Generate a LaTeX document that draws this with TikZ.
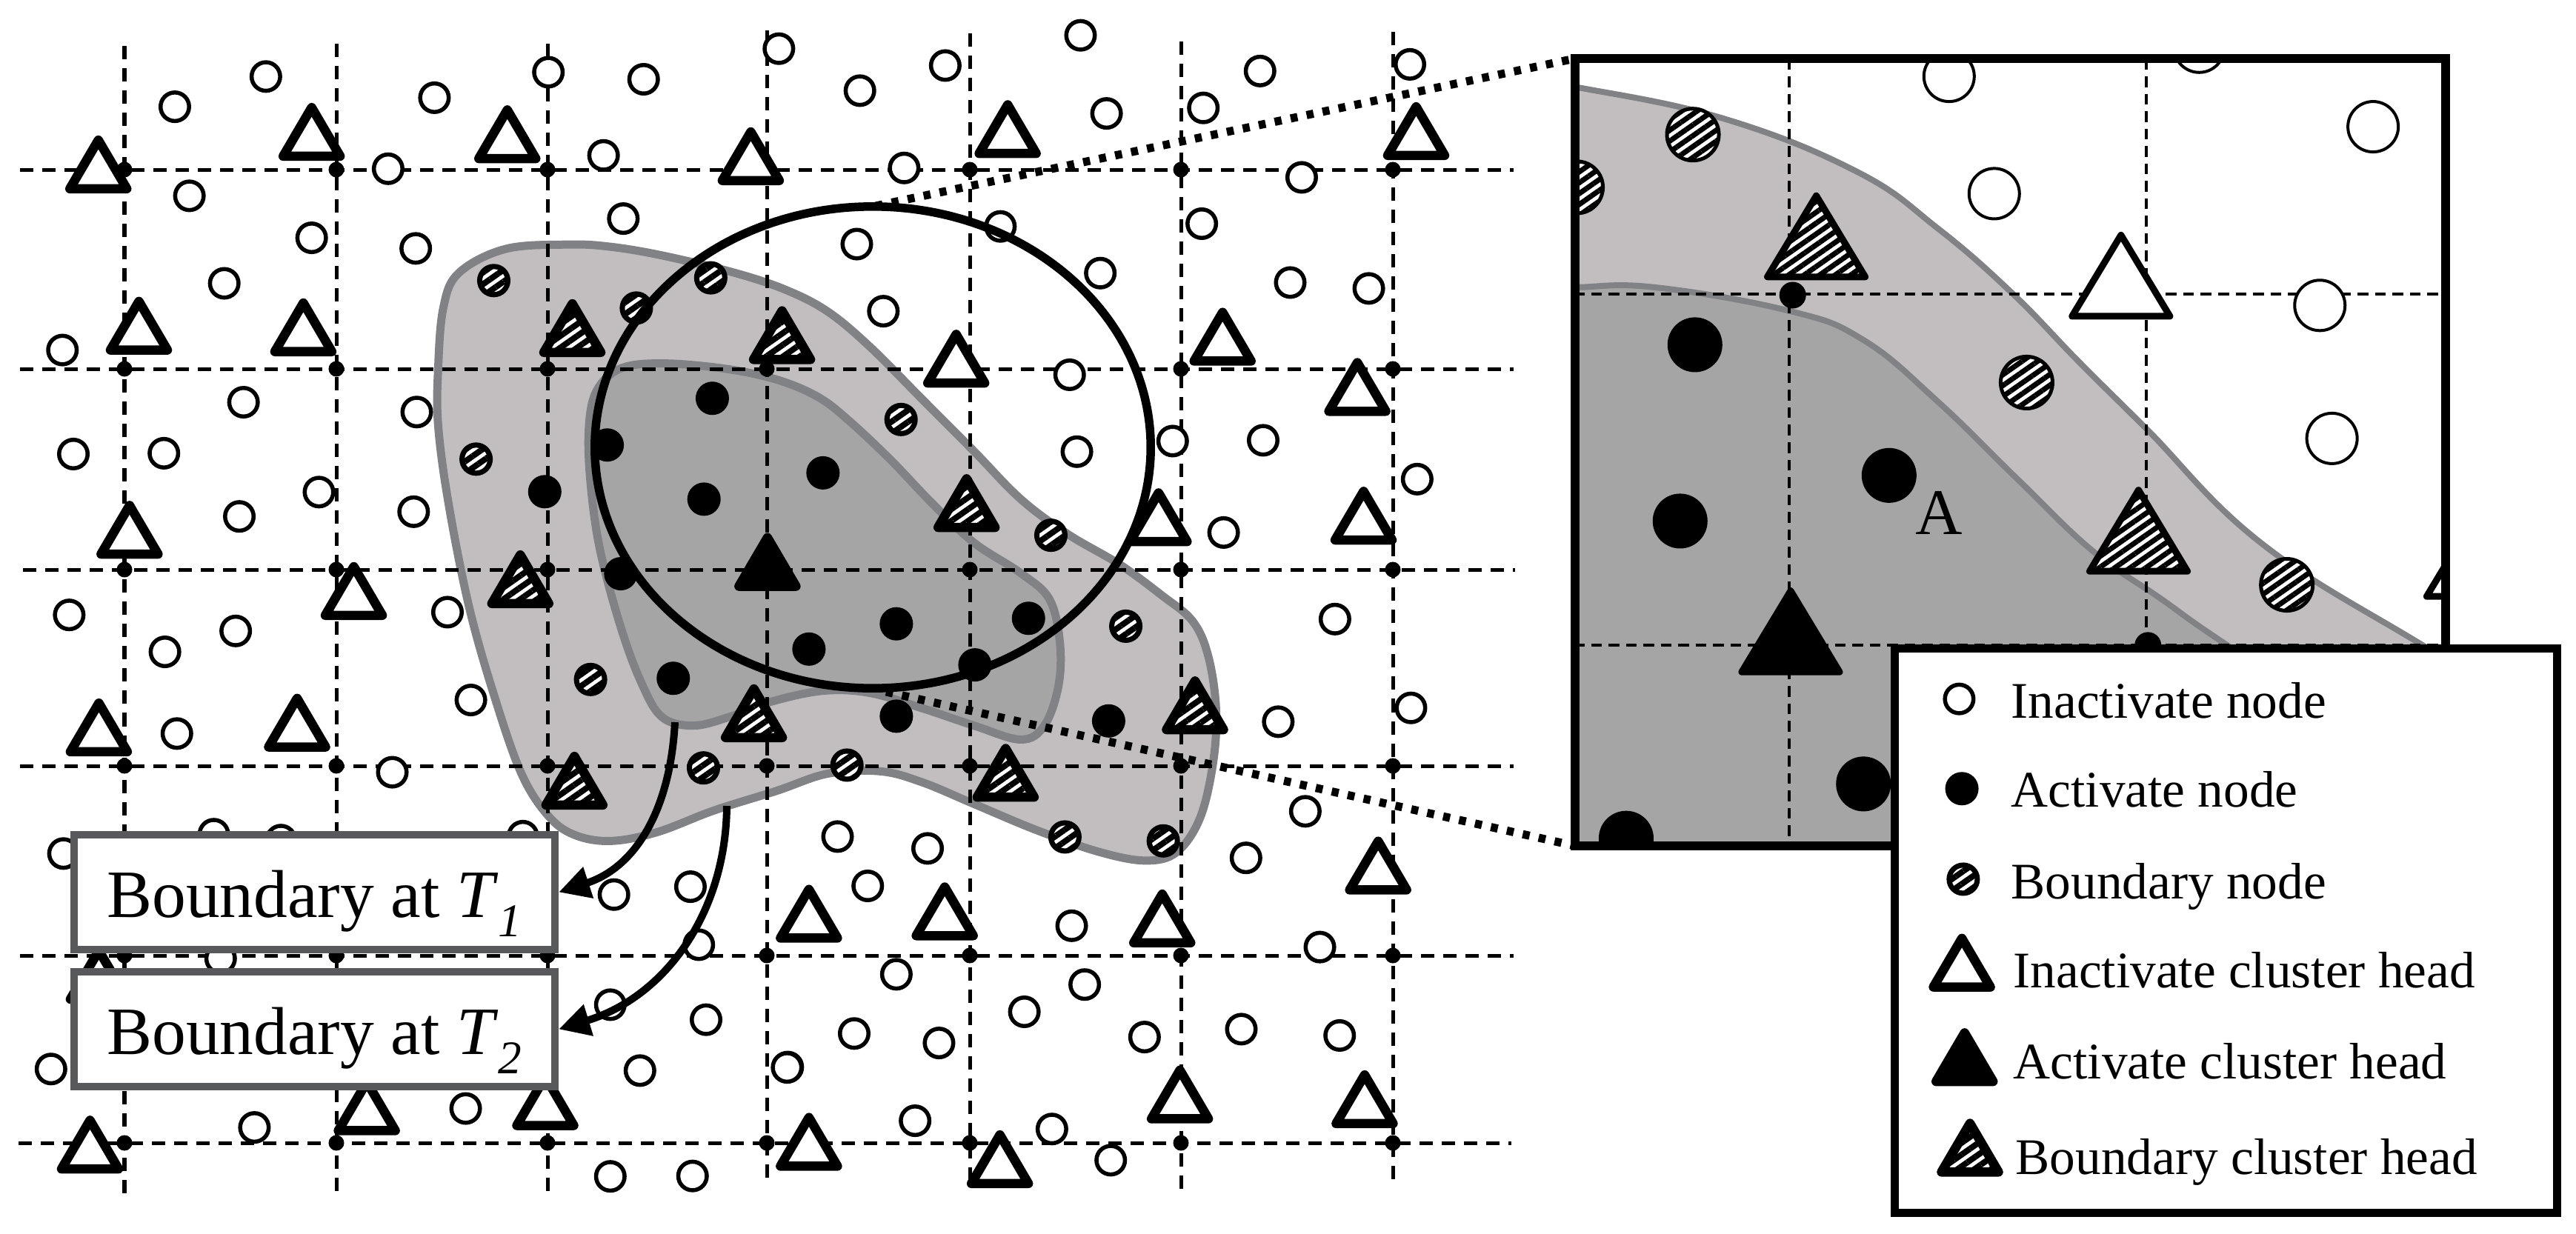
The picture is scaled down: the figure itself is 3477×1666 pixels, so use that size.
\documentclass[tikz,border=0pt]{standalone}
\usepackage{fontspec}
\setmainfont{Liberation Serif}
\usetikzlibrary{arrows.meta,patterns.meta}
\definecolor{zoneline}{HTML}{808285}
\definecolor{zoneout}{HTML}{C2BEBF}
\definecolor{zonein}{HTML}{A6A5A6}
\definecolor{boxline}{HTML}{58595B}
\newcommand\placenodes[3]{\foreach \x/\y [count=\i] in {#3} \node[#1] (#2\i) at (\x,\y) {};}
\newcommand\placetris[2]{\foreach \x/\y in {#2} \path[#1] (\x,\y) +(-.385cm,.063cm) -- +(.385cm,.063cm) -- +(0cm,.72cm) -- cycle;}
\newcommand\placebig[2]{\foreach \x/\y in {#2} \path[#1] (\x,\y) +(-.66cm,.045cm) -- +(.66cm,.045cm) -- +(0cm,1.14cm) -- cycle;}
\tikzset{
  hatch/.style={preaction={fill=white},pattern={Lines[angle=35,distance=.13cm,line width=.08cm]},pattern color=black},
  hatchbig/.style={preaction={fill=white},pattern={Lines[angle=35,distance=.12cm,line width=.07cm]},pattern color=black},
  inode/.style={circle,draw=black,fill=white,line width=.055cm,minimum size=.385cm,inner sep=0pt},
  anode/.style={circle,fill=black,minimum size=.45cm,inner sep=0pt},
  bnode/.style={circle,draw=black,line width=.07cm,minimum size=.38cm,inner sep=0pt,hatch},
  ihead/.style={draw=black,fill=white,line width=.125cm,line join=round},
  ahead/.style={draw=black,fill=black,line width=.125cm,line join=round},
  bhead/.style={draw=black,line width=.125cm,line join=round,hatch},
  gridline/.style={draw=black,line width=.05cm,dash pattern=on .18cm off .12cm},
  griddot/.style={circle,fill=black,minimum size=.21cm,inner sep=0pt},
  fineline/.style={draw=black,line width=.04cm,dash pattern=on .145cm off .09cm},
  zoneA/.style={draw=zoneline,fill=zoneout,line width=.11cm},
  zoneB/.style={draw=zoneline,fill=zonein,line width=.11cm},
  zoneAz/.style={draw=zoneline,fill=zoneout,line width=.08cm},
  zoneBz/.style={draw=zoneline,fill=zonein,line width=.08cm},
  dotlink/.style={draw=black,line width=.11cm,dash pattern=on .095cm off .125cm},
  labelbox/.style={draw=boxline,fill=white,line width=.1cm,minimum width=6.49cm,minimum height=1.55cm,inner sep=0pt,text height=.9cm,text depth=.22cm,font=\fontsize{26}{26}\selectfont},
  bigi/.style={circle,draw=black,fill=white,line width=.04cm,minimum size=.68cm,inner sep=0pt},
  biga/.style={circle,fill=black,minimum size=.74cm,inner sep=0pt},
  bigb/.style={circle,draw=black,line width=.05cm,minimum size=.7cm,inner sep=0pt,hatchbig},
  smalla/.style={circle,fill=black,minimum size=.36cm,inner sep=0pt},
  bigih/.style={draw=black,fill=white,line width=.09cm,line join=round},
  bigah/.style={draw=black,fill=black,line width=.09cm,line join=round},
  bigbh/.style={draw=black,line width=.09cm,line join=round,hatchbig},
  legtext/.style={anchor=base west,inner sep=0pt,font=\fontsize{19.7}{20}\selectfont},
  zA/.style={x=.0070153cm,y=-.0052932cm},
  zB/.style={xshift=10cm,x=.0070153cm,y=-.0052932cm},
  zD/.style={yshift=-8.3cm,x=.0070153cm,y=-.0053316cm},
  zE/.style={xshift=10cm,yshift=-8.3cm,x=.0070153cm,y=-.0053316cm},
  zC/.style={xshift=20.5cm,x=.0091008cm,y=-.0106247cm},
  zF/.style={xshift=5.7cm,yshift=-2.8cm,x=.0070153cm,y=-.0058675cm},
  curved/.style={draw=black,line width=.1cm,-{Triangle[length=.42cm,width=.42cm]}}
}
\begin{document}
\begin{tikzpicture}[x=.01cm,y=-.01cm]
\useasboundingbox (0,0) rectangle (3477,1666);
% boundary zones
\begin{scope}[zF]
\path[zoneA] plot[smooth cycle,tension=.6] coordinates {(280,85)(160,95)(70,150)(40,230)(30,370)(30,500)(50,680)(90,920)(140,1130)(190,1300)(240,1395)(290,1440)(360,1455)(450,1435)(560,1385)(680,1340)(780,1300)(880,1295)(960,1320)(1060,1370)(1180,1430)(1300,1480)(1390,1500)(1450,1480)(1495,1400)(1520,1270)(1525,1150)(1510,1030)(1480,950)(1420,890)(1340,820)(1240,750)(1150,670)(1060,560)(960,440)(860,320)(780,240)(700,190)(600,150)(460,110)(360,90)};
\path[zoneB] plot[smooth cycle,tension=.6] coordinates {(460,358)(380,370)(335,420)(320,500)(322,620)(340,780)(380,960)(420,1090)(460,1170)(520,1190)(590,1170)(670,1135)(770,1110)(860,1115)(960,1150)(1060,1190)(1150,1222)(1195,1190)(1222,1100)(1225,1000)(1205,900)(1150,840)(1060,770)(980,680)(900,580)(820,490)(760,435)(680,395)(580,370)};
\end{scope}
% grid
\foreach \gx/\ga/\gb in {168/62/1616,454/59/1613,739/59/1613,1035/41/1595,1309/45/1600,1594/56/1611,1880/43/1596}
  \draw[gridline] (\gx,\ga) -- (\gx,\gb);
\foreach \gy/\ga/\gb in {229/27/2043,498/27/2043,769/31/2045,1034/27/2043,1290/27/2043,1543/25/2040}
  \draw[gridline] (\ga,\gy) -- (\gb,\gy);
\foreach \gx [count=\m] in {168,454,739,1035,1309,1594,1880}
  \foreach \gy [count=\n] in {229,498,769,1034,1290,1543}
    \node[griddot] (g\m-\n) at (\gx,\gy) {};
% upper left
\begin{scope}[zA]
\placenodes{inode}{ia}{511/195,336/272,835/249,1054/184,1237/202,1497/124,746/430,1160/396,364/499,599/606,799/633,1198/557,431/722,120/892,468/1025,801/1050,141/1157,315/1155,613/1254,460/1316,795/1304,133/1567,860/1560}
\placenodes{bnode}{ba}{949/715,1366/708,1223/785,915/1170}
\placenodes{anode}{aa}{1369/1015,1167/1134,1047/1253,1353/1272,1193/1462}
\placetris{ihead}{189/493,599/410,975/416,1443/472,267/904,583/908,249/1424,680/1580}
\placetris{bhead}{1100/910,1503/928,1000/1550}
\placetris{ahead}{1475/1506}
\end{scope}
% upper middle
\begin{scope}[zB]
\placenodes{inode}{ib}{392/167,228/231,652/90,702/289,888/275,997/181,1285/164,313/428,1077/452,498/577,885/570,222/622,690/696,273/793,1055/720,1206/735,631/955,829/1124,645/1151,1003/1122,1299/1221,927/1357}
\placenodes{bnode}{bb}{307/1069,595/1364}
\placenodes{anode}{ab}{157/1205}
\placetris{ihead}{512/403,1297/408,925/932,413/988,1184/1060,802/1392,1196/1388}
\placetris{bhead}{433/1356}
\end{scope}
% lower left
\begin{scope}[zD]
\placenodes{inode}{id}{453/40,317/93,905/215,340/300,754/398,1180/708,1327/688,1343/835,1173/987,1357/1025,1230/1154,1514/1145,1173/1422,1331/1421,895/1250,489/1298,98/1150,122/604,411/555,540/570,1005/560,424/870}
\placenodes{bnode}{bd}{1135/163,1352/387}
\placenodes{anode}{ad}{1294/160}
\placetris{ihead}{190/358,571/346,173/1415,705/1318,1048/1305,190/985}
\placetris{bhead}{1449/322,1104/493}
\end{scope}
% lower middle
\begin{scope}[zE]
\placenodes{inode}{ie}{1141/10,1287/235,1032/270,1084/497,970/615,185/561,358/591,243/686,635/787,1112/841,298/910,660/936,544/1005,217/1060,380/1084,88/1146,775/1069,961/1049,1150/1065,334/1281,597/1302,710/1381}
\placenodes{bnode}{be}{739/28,203/380,622/562,811/572}
\placenodes{anode}{ae}{130/86,298/22,552/8,449/126,298/256,706/268}
\placetris{ihead}{130/830,391/824,809/842,1224/708,843/1288,1198/1300,130/1408,497/1452}
\placetris{bhead}{872/302,508/473}
\end{scope}
% range circle and its zoom lines
\draw[black,line width=.115cm] (1178,604) ellipse [x radius=3.75cm,y radius=3.25cm];
\coordinate (rtop) at (1182,278);
\coordinate (rbot) at (1196,934);
\coordinate (ztl) at (2126,79);
\coordinate (zbl) at (2126,1142);
\draw[dotlink] (rtop) -- (ztl);
\draw[dotlink] (rbot) -- (zbl);
% zoomed view
\begin{scope}
\clip (2126,79) rectangle (3301,1142);
\begin{scope}[zC]
\path[zoneAz] plot[smooth,tension=.7] coordinates {(0,100)(80,110)(300,150)(500,218)(620,290)(730,372)(830,460)(930,545)(1100,690)(1340,820)(1600,950)} -- (1600,1300) -- (0,1300) -- cycle;
\path[zoneBz] plot[smooth,tension=.7] coordinates {(0,365)(80,365)(200,365)(400,395)(510,432)(620,510)(740,610)(850,700)(950,760)(1050,820)(1300,960)} -- (1300,1300) -- (0,1300) -- cycle;
\draw[fineline] (400,75) -- (400,1070);
\draw[fineline] (930,75) -- (930,1070);
\draw[fineline] (80,374) -- (1370,374);
\draw[fineline] (80,820) -- (1370,820);
\placenodes{bigi}{zi}{637/97,1008/60,1266/161,704/246,1187/388,1205/557}
\placenodes{bigb}{zb}{257/171,85/238,752/486,1138/743}
\placenodes{biga}{za}{260/438,548/604,238/662,510/996,158/1065}
\placenodes{smalla}{zs}{405/375,932/820}
\placebig{bigih}{892/406,1418/762}
\placebig{bigbh}{440/356,918/730}
\placebig{bigah}{402/858}
\node[inner sep=0pt,font=\fontsize{25}{25}\selectfont] (letterA) at (622,652) {A};
\end{scope}
\end{scope}
\draw[black,line width=.115cm] (2126,79) rectangle (3301,1142);
% legend
\node[draw=black,fill=white,line width=.11cm,minimum width=8.93cm,minimum height=7.61cm,inner sep=0pt] (legend) at (3004.5,1256.5) {};
\begin{scope}[zC]
\node[inode] (li) at (652,888) {};
\node[anode] (la) at (656,1002) {};
\node[bnode] (lb) at (658,1117) {};
\placetris{ihead}{656/1260}
\placetris{ahead}{660/1380}
\placetris{bhead}{668/1495}
\end{scope}
\node[legtext] (t1) at (2714,969) {Inactivate node};
\node[legtext] (t2) at (2714,1089) {Activate node};
\node[legtext] (t3) at (2714,1213) {Boundary node};
\node[legtext] (t4) at (2717,1333) {Inactivate cluster head};
\node[legtext] (t5) at (2717,1456) {Activate cluster head};
\node[legtext] (t6) at (2720,1585) {Boundary cluster head};
% labels and arrows
\node[labelbox] (b1) at (424.5,1204.5) {Boundary at \textit{T}\raisebox{-.28em}{\fontsize{18}{18}\selectfont\itshape 1}};
\node[labelbox] (b2) at (424.5,1389.5) {Boundary at \textit{T}\raisebox{-.28em}{\fontsize{18}{18}\selectfont\itshape 2}};
\coordinate (s1) at (911,975);
\coordinate (s2) at (981,1088);
\draw[curved] (s1) .. controls (905,1090) and (860,1170) .. (b1.east);
\draw[curved] (s2) .. controls (980,1230) and (900,1345) .. (b2.east);
\end{tikzpicture}
\end{document}
